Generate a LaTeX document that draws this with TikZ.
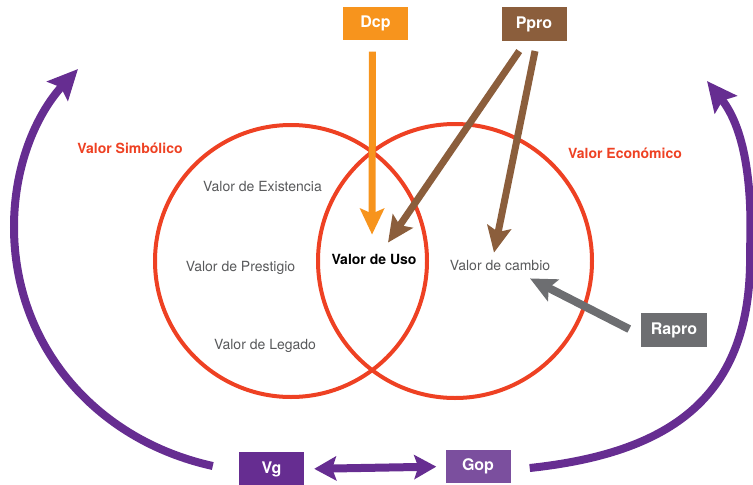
\documentclass[tikz,border=0pt]{standalone}
\usepackage{fontspec}
\setmainfont{TeX Gyre Heros}
\usetikzlibrary{arrows.meta}
\definecolor{venred}{HTML}{EE4123}
\definecolor{dcporange}{HTML}{F7941D}
\definecolor{probrown}{HTML}{8B5E3C}
\definecolor{raprogray}{HTML}{6D6E71}
\definecolor{vgpurple}{HTML}{662D91}
\definecolor{goppurple}{HTML}{7B4F9E}
\definecolor{valgray}{HTML}{58595B}

\begin{document}
\begin{tikzpicture}[x=1pt,y=-1pt,
  valtext/.style={anchor=base,inner sep=2pt,text=valgray,font=\fontsize{14}{16}\selectfont},
  headtext/.style={anchor=base,inner sep=2pt,text=venred,font=\bfseries\fontsize{14}{16}\selectfont},
  tagbox/.style={minimum width=65pt,minimum height=33pt,inner sep=0pt,text=white,font=\bfseries\fontsize{16}{18}\selectfont},
  ring/.style={draw=venred,line width=4pt},
  flow/.style={line width=7pt,arrows={-Stealth[length=26pt,width=24pt,inset=5pt]}},
  cyclearrow/.style={draw=vgpurple,line width=8pt,arrows={-Stealth[length=30pt,width=28pt,inset=5pt]}},
  link/.style={draw=vgpurple,line width=8pt,arrows={Stealth[length=22pt,width=24pt,inset=4pt]-Stealth[length=22pt,width=24pt,inset=4pt]}}
]
\useasboundingbox (0,0) rectangle (753,485);

% the two values
\draw[ring] (291,261) circle[radius=136];
\draw[ring] (455,261) circle[radius=137];

\node[headtext] (simb) at (130,153) {Valor Simbólico};
\node[headtext] (econ) at (625,158) {Valor Económico};

\node[valtext] (exist) at (262.5,191) {Valor de Existencia};
\node[valtext] (prest) at (240.5,271) {Valor de Prestigio};
\node[valtext] (legado) at (265,349) {Valor de Legado};
\node[valtext,text=black,font=\bfseries\fontsize{14}{16}\selectfont] (uso) at (374,264) {Valor de Uso};
\node[valtext] (cambio) at (500,270) {Valor de cambio};

% boxes
\node[tagbox,fill=dcporange] (dcp) at (375.5,23) {Dcp};
\node[tagbox,fill=probrown,minimum height=34pt] (ppro) at (534,24) {Ppro};
\node[tagbox,fill=raprogray,minimum width=66pt,minimum height=34pt] (rapro) at (674,330) {Rapro};
\node[tagbox,fill=vgpurple,minimum height=34pt] (vg) at (271.5,469) {Vg};
\node[tagbox,fill=goppurple] (gop) at (478,466.5) {Gop};

\coordinate (symtip) at (78,69);
\coordinate (ecotip) at (707,81);

% arrows
\draw[flow,draw=dcporange,fill=dcporange,shorten <=12pt,shorten >=17pt] ([xshift=-3pt]dcp.south) -- ([xshift=-2pt]uso.north);
\draw[flow,draw=probrown,fill=probrown,shorten <=12pt] ([xshift=-8pt]ppro.south) -- ([xshift=14pt,yshift=9pt]uso.north);
\draw[flow,draw=probrown,fill=probrown,shorten <=10pt] ([xshift=3pt]ppro.south) -- ([xshift=-6pt,yshift=5pt]cambio.north);
\draw[flow,line width=8pt,draw=raprogray,fill=raprogray,shorten <=13pt] ([yshift=-5pt]rapro.west) -- ([xshift=30pt,yshift=-6pt]cambio.south);

\draw[link,shorten <=10pt,shorten >=9pt] (vg.east) -- (gop.west);

\draw[cyclearrow] ([xshift=-26pt,yshift=3pt]vg.west) .. controls (95,440) and (14,345) .. (14,227)
  .. controls (14,160) and (40,110) .. (symtip);
\draw[cyclearrow] ([xshift=19pt,yshift=-1.5pt]gop.east) .. controls (680,452) and (753,390) .. (750,250)
  .. controls (753,175) and (742,125) .. (ecotip);
\end{tikzpicture}
\end{document}
